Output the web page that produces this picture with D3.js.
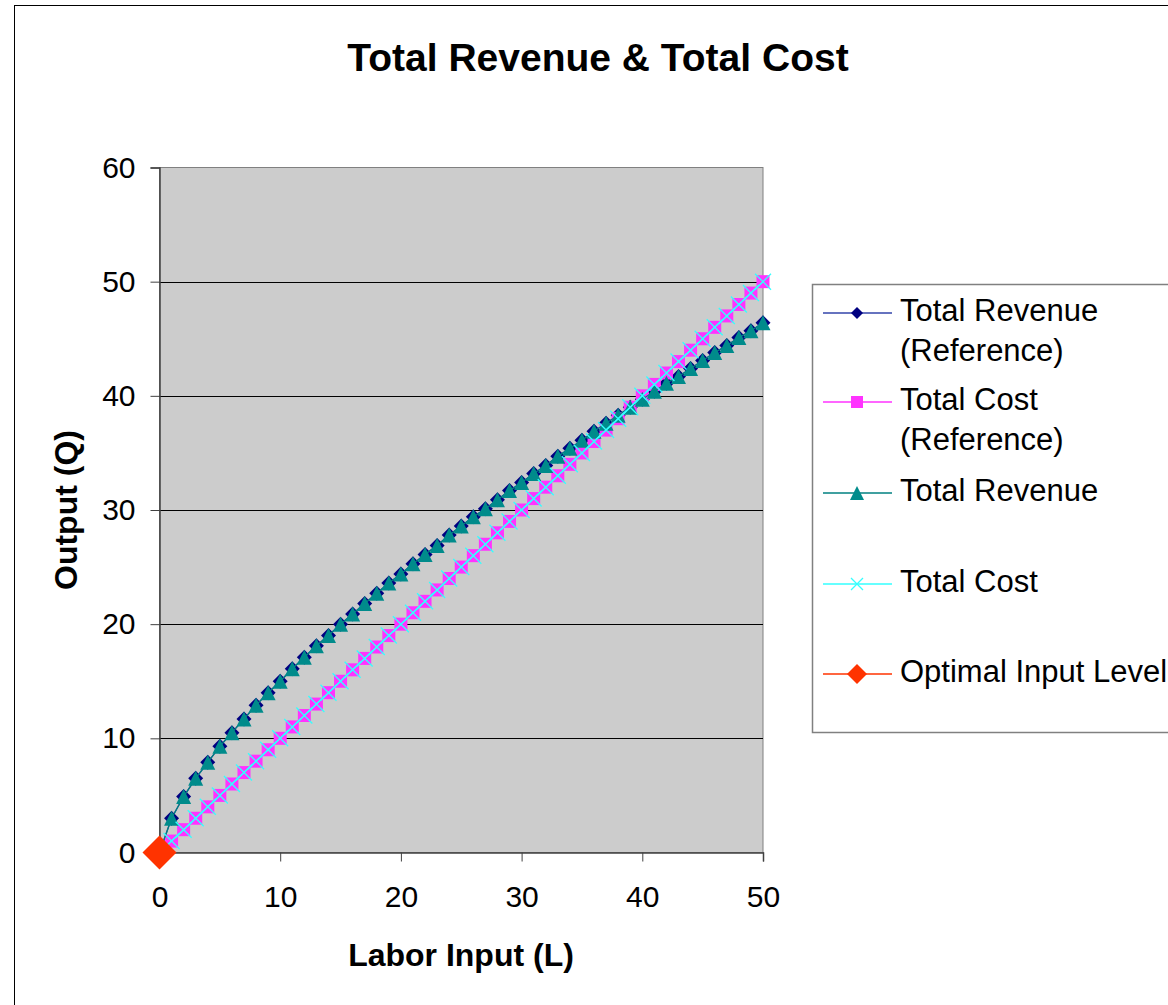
<!DOCTYPE html>
<html><head><meta charset="utf-8">
<script src="https://cdn.jsdelivr.net/npm/d3@7"></script>
<style>html,body{margin:0;padding:0;background:#fff;overflow:hidden}svg{display:block;font-family:"Liberation Sans",Arial,sans-serif}</style>
</head><body>
<svg id="c" width="1168" height="1005"></svg>
<script>
const laborInput = [0,1,2,3,4,5,6,7,8,9,10,11,12,13,14,15,16,17,18,19,20,21,22,23,24,25,26,27,28,29,30,31,32,33,34,35,36,37,38,39,40,41,42,43,44,45,46,47,48,49,50];
const totalRevenueRef = [0,3.0,4.9,6.5,7.9,9.3,10.5,11.7,12.9,14.0,15.0,16.1,17.1,18.1,19.0,20.0,20.9,21.8,22.7,23.6,24.4,25.3,26.1,26.9,27.8,28.6,29.4,30.1,30.9,31.7,32.4,33.2,33.9,34.7,35.4,36.1,36.9,37.6,38.3,39.0,39.7,40.4,41.1,41.7,42.4,43.1,43.8,44.4,45.1,45.7,46.4];
const totalCostRef = [0,1,2,3,4,5,6,7,8,9,10,11,12,13,14,15,16,17,18,19,20,21,22,23,24,25,26,27,28,29,30,31,32,33,34,35,36,37,38,39,40,41,42,43,44,45,46,47,48,49,50];
const totalRevenue = [0,3.0,4.9,6.5,7.9,9.3,10.5,11.7,12.9,14.0,15.0,16.1,17.1,18.1,19.0,20.0,20.9,21.8,22.7,23.6,24.4,25.3,26.1,26.9,27.8,28.6,29.4,30.1,30.9,31.7,32.4,33.2,33.9,34.7,35.4,36.1,36.9,37.6,38.3,39.0,39.7,40.4,41.1,41.7,42.4,43.1,43.8,44.4,45.1,45.7,46.4];
const totalCost = [0,1,2,3,4,5,6,7,8,9,10,11,12,13,14,15,16,17,18,19,20,21,22,23,24,25,26,27,28,29,30,31,32,33,34,35,36,37,38,39,40,41,42,43,44,45,46,47,48,49,50];
const optimalL = [0];
const optimalQ = [0];
const xTicks = [0,10,20,30,40,50];
const yTicks = [0,10,20,30,40,50,60];
const seriesNames = ["Total Revenue\n(Reference)","Total Cost\n(Reference)","Total Revenue","Total Cost","Optimal Input Level"];

const svg = d3.select("#c");
const L = 159.5, R = 763, T = 167.5, B = 852.5;
const x = d3.scaleLinear().domain([0,50]).range([L,R]);
const y = d3.scaleLinear().domain([0,60]).range([B,T]);

// outer chart border
svg.append("rect").attr("x",14.5).attr("y",5.5).attr("width",1200).attr("height",1100)
  .attr("fill","#fff").attr("stroke","#000").attr("stroke-width",1);

// title
svg.append("text").attr("x",598).attr("y",71).attr("text-anchor","middle")
  .attr("font-size",39).attr("font-weight","bold").text("Total Revenue & Total Cost");

// plot area
svg.append("rect").attr("x",L).attr("y",T).attr("width",R-L).attr("height",B-T)
  .attr("fill","#cccccc").attr("stroke","#808080").attr("stroke-width",1);

// gridlines
svg.append("g").selectAll("line").data(yTicks.filter(d=>d>0 && d<60)).join("line")
  .attr("x1",L).attr("x2",R).attr("y1",d=>Math.round(y(d))+0.5).attr("y2",d=>Math.round(y(d))+0.5)
  .attr("stroke","#000").attr("stroke-width",1);

// axes
const yAxis = svg.append("g").attr("transform",`translate(${L},0)`)
  .call(d3.axisLeft(y).tickValues(yTicks).tickSize(9).tickPadding(15).tickFormat(d3.format("d")));
const xAxis = svg.append("g").attr("transform",`translate(0,${B})`)
  .call(d3.axisBottom(x).tickValues(xTicks).tickSize(9).tickPadding(24).tickFormat(d3.format("d")));
[yAxis,xAxis].forEach(a=>{
  a.select(".domain").attr("stroke","#404040").attr("stroke-width",1.5);
  a.selectAll(".tick line").attr("stroke","#404040");
  a.selectAll("text").attr("font-size",30).attr("fill","#000").attr("font-family","Liberation Sans, Arial, sans-serif");
});
xAxis.selectAll("text").attr("dy","0.71em");

// axis titles
svg.append("text").attr("transform","translate(77,510) rotate(-90)").attr("text-anchor","middle")
  .attr("font-size",32).attr("font-weight","bold").text("Output (Q)");
svg.append("text").attr("x",461).attr("y",966).attr("text-anchor","middle")
  .attr("font-size",32).attr("font-weight","bold").text("Labor Input (L)");

// marker shapes
function marker(g, type, color, s){
  if(type==="diamond"){
    g.append("path").attr("d",`M0,${-s}L${s},0L0,${s}L${-s},0Z`).attr("fill",color);
  } else if(type==="square"){
    g.append("rect").attr("x",-s).attr("y",-s).attr("width",2*s).attr("height",2*s).attr("fill",color);
  } else if(type==="triangle"){
    g.append("path").attr("d",`M0,${-s}L${s},${s}L${-s},${s}Z`).attr("fill",color);
  } else if(type==="x"){
    g.append("path").attr("d",`M${-s},${-s}L${s},${s}M${-s},${s}L${s},${-s}`).attr("stroke",color).attr("stroke-width",1.3).attr("fill","none");
  }
}

const series = [
  {xs:laborInput, ys:totalRevenueRef, color:"#000080", line:"#3344aa", type:"diamond", s:7.5},
  {xs:laborInput, ys:totalCostRef, color:"#ff33ff", line:"#ff33ff", type:"square", s:6.5},
  {xs:laborInput, ys:totalRevenue, color:"#008b8b", line:"#008080", type:"triangle", s:7.5},
  {xs:laborInput, ys:totalCost, color:"#33ffff", line:"#33ffff", type:"x", s:8},
  {xs:optimalL, ys:optimalQ, color:"#ff3300", line:"#ff3300", type:"diamond", s:17}
];
const lineGen = d3.line().x(d=>x(d[0])).y(d=>y(d[1]));
series.forEach(sr=>{
  const pts = sr.xs.map((v,i)=>[v,sr.ys[i]]);
  if(pts.length>1){
    svg.append("path").datum(pts).attr("d",lineGen).attr("fill","none").attr("stroke",sr.line).attr("stroke-width",1.3);
  }
  pts.forEach(p=>{
    const g = svg.append("g").attr("transform",`translate(${x(p[0])},${y(p[1])})`);
    marker(g, sr.type, sr.color, sr.s);
  });
});

// legend
svg.append("rect").attr("x",812.5).attr("y",284.5).attr("width",400).attr("height",448)
  .attr("fill","#fff").attr("stroke","#808080").attr("stroke-width",1.5);
const legBase = [321,410,501,592,682];
const legS = [6,6,7,6,10];
series.forEach((sr,i)=>{
  const yy = legBase[i]-8;
  svg.append("line").attr("x1",823).attr("x2",892).attr("y1",yy).attr("y2",yy).attr("stroke",sr.line).attr("stroke-width",1.3);
  const g = svg.append("g").attr("transform",`translate(857,${yy})`);
  marker(g, sr.type, sr.color, legS[i]);
  const lines = seriesNames[i].split("\n");
  lines.forEach((t,j)=>{
    svg.append("text").attr("x",900).attr("y",legBase[i]+j*40).attr("font-size",31).attr("fill","#000").text(t);
  });
});
</script>
</body></html>
